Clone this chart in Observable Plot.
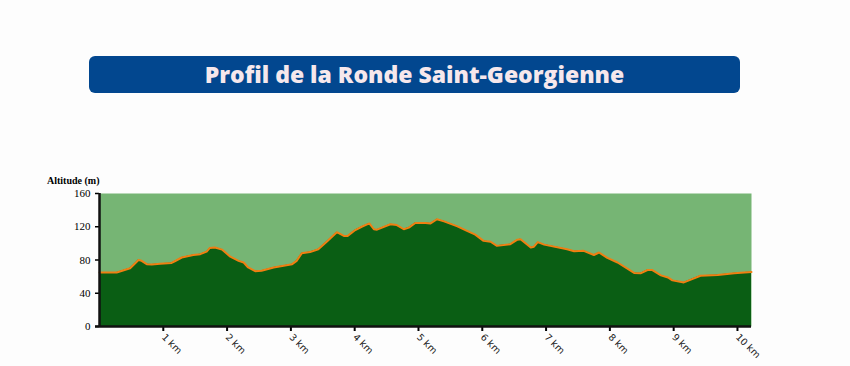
<!DOCTYPE html>
<html>
<head>
<meta charset="utf-8">
<script src="https://cdn.jsdelivr.net/npm/d3@7"></script>
<script src="https://cdn.jsdelivr.net/npm/@observablehq/plot@0.6"></script>
<style>
  body { margin: 0; background: #fdfdfd; width: 850px; height: 366px; position: relative; overflow: hidden; }
  #title { position: absolute; left: 89px; top: 56px; width: 651px; height: 37px; background: #02478f;
    border-radius: 6px; color: #f6e8ec; font-family: "Open Sans", sans-serif; font-weight: 800;
    font-size: 23px; line-height: 36px; text-align: center; letter-spacing: 0px; }
  #ylab { position: absolute; left: 47px; top: 175px; font-family: "Liberation Serif", serif; font-weight: 700; font-size: 10px; color: #000; }
  #chart { position: absolute; left: 0; top: 170px; }
</style>
</head>
<body>
<div id="title">Profil de la Ronde Saint-Georgienne</div>
<div id="ylab">Altitude (m)</div>
<div id="chart"></div>
<script>
const distanceKm = [0, 0.27, 0.48, 0.56, 0.61, 0.66, 0.74, 0.82, 0.95, 1.13, 1.18, 1.29, 1.47, 1.58, 1.68, 1.73, 1.81, 1.92, 2.05, 2.18,
  2.26, 2.33, 2.44, 2.54, 2.73, 3.02, 3.09, 3.17, 3.30, 3.43, 3.57, 3.72, 3.83, 3.89, 4.01, 4.11, 4.23, 4.30, 4.35, 4.56,
  4.66, 4.77, 4.85, 4.95, 5.11, 5.19, 5.29, 5.40, 5.61, 5.76, 5.89, 6.02, 6.13, 6.23, 6.44, 6.55, 6.60, 6.76, 6.81, 6.87,
  6.97, 7.33, 7.44, 7.59, 7.75, 7.83, 7.96, 8.12, 8.38, 8.48, 8.59, 8.66, 8.80, 8.91, 8.98, 9.16, 9.29, 9.42, 9.69, 9.95, 10.22];
const altitudeM = [65, 65, 70, 76, 80, 79, 75, 74.5, 75.5, 76.5, 78.5, 83, 86, 87, 90, 94.5, 95, 92.5, 84, 79,
  77, 71, 66.5, 67, 71, 75, 79, 88, 89.5, 93, 102.5, 113.5, 109, 109, 116, 120, 124, 117, 116.5, 123,
  122, 117, 119, 124.5, 124.5, 124, 129, 126.5, 120.5, 115, 110.5, 103, 102, 97, 99, 104.5, 105, 95, 96, 101.5,
  98.5, 93, 90.5, 91, 86, 89, 82.5, 77, 64.5, 64, 68, 68, 61.5, 59, 55.5, 53, 57, 61, 62, 64, 65.5];
const yTicks = [0, 40, 80, 120, 160];
const xTicks = [1, 2, 3, 4, 5, 6, 7, 8, 9, 10];
const xUnit = " km";

const data = distanceKm.map((d, i) => ({d, a: altitudeM[i]}));

const chart = Plot.plot({
  width: 850,
  height: 196,
  marginLeft: 99,
  marginRight: 99,
  marginTop: 23,
  marginBottom: 40,
  style: {fontFamily: "'Liberation Serif', serif", fontSize: "11px", background: "transparent", color: "#000"},
  x: {domain: [0, 10.22], ticks: xTicks, tickFormat: d => d + xUnit, tickRotate: 45, tickSize: 5, label: null},
  y: {domain: [0, 160], ticks: yTicks, tickSize: 4, label: null},
  marks: [
    Plot.frame({fill: "#76b574", stroke: null}),
    Plot.areaY(data, {x: "d", y: "a", fill: "#0a5e14"}),
    Plot.lineY(data, {x: "d", y: "a", stroke: "#f07f12", strokeWidth: 2}),
    Plot.axisX({ticks: xTicks, tickFormat: d => d + xUnit, tickRotate: 45, tickSize: 5, strokeWidth: 2, fontSize: 9.5, fontFamily: "'DejaVu Sans', sans-serif", fill: "#222", tickPadding: 4}),
    Plot.axisY({ticks: yTicks, tickSize: 4, strokeWidth: 1.5, fontSize: 11}),
    Plot.ruleY([0], {stroke: "#111", strokeWidth: 2.5, insetLeft: -4}),
    Plot.ruleX([0], {stroke: "#111", strokeWidth: 2.5})
  ]
});
document.getElementById("chart").appendChild(chart);
</script>
</body>
</html>
